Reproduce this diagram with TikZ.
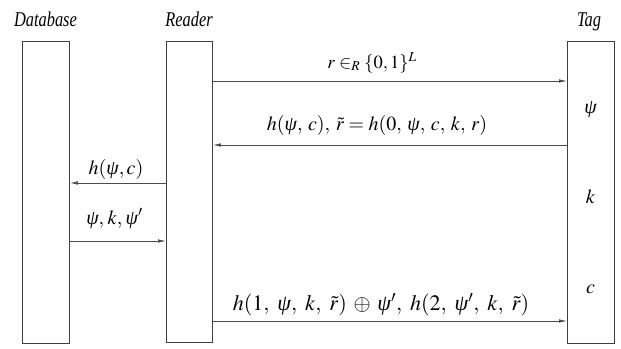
\documentclass[tikz,border=0pt]{standalone}
\usepackage{mathptmx}
\usepackage[no-math]{fontspec}
\setmainfont{Liberation Serif}
\newfontfamily\greekit{Liberation Serif}
\newcommand{\psii}{\mathord{\mbox{\greekit\itshape ψ}}}
\usetikzlibrary{arrows.meta}
\begin{document}
\begin{tikzpicture}[x=1pt,y=-1pt,
  box/.style={draw=black!75,line width=0.9pt,inner sep=0pt,anchor=north west},
  msg/.style={draw=black!70,line width=0.7pt,-{Latex[length=8pt,width=3.5pt]}},
  lbl/.style={anchor=base,inner sep=0pt,font=\fontsize{20}{24}\selectfont},
  ttl/.style={anchor=base,inner sep=0pt,font=\fontsize{21}{25}\selectfont\itshape}]
\useasboundingbox (0,0) rectangle (621,348);
% lifeline boxes
\node[box,minimum width=47pt,minimum height=302pt] (db) at (22,41) {};
\node[box,minimum width=46pt,minimum height=301pt] (rd) at (166,41) {};
\node[box,minimum width=47pt,minimum height=302pt] (tg) at (567,41) {};
% titles
\node[ttl] (tdb) at (45.5,27) {\scalebox{0.78}[1]{\itshape Database}};
\node[ttl] (trd) at (189,27) {\scalebox{0.78}[1]{\itshape Reader}};
\node[ttl] (ttg) at (589,27) {\scalebox{0.78}[1]{\itshape Tag}};
% tag contents
\node[lbl,anchor=center] (psi) at (590.5,110) {$\psii$};
\node[lbl,anchor=center] (kk) at (590.5,197) {$k$};
\node[lbl,anchor=center] (cc) at (590.5,289) {$c$};
% messages
\draw[msg] (rd.east |- 0,81) -- (tg.west |- 0,81);
\node[lbl,font=\fontsize{18.5}{22}\selectfont] (m1) at (372,68) {$r \in_R \{0,1\}^L$};
\draw[msg] (tg.west |- 0,145) -- (rd.east |- 0,145);
\node[lbl] (m2) at (377,130) {$h(\psii,\mkern3mu c),\mkern3mu \tilde{r} = h(0,\mkern3mu\psii,\mkern3mu c,\mkern3mu k,\mkern3mu r)$};
\draw[msg] (rd.west |- 0,183) -- (db.east |- 0,183);
\node[lbl] (m3) at (116,174) {$h(\psii,c)$};
\draw[msg] (db.east |- 0,241) -- (rd.west |- 0,241);
\node[lbl] (m4) at (114.5,224) {$\psii,\mkern1mu k,\mkern1mu\psii'$};
\draw[msg] (rd.east |- 0,321) -- (tg.west |- 0,321);
\node[lbl,font=\fontsize{22}{26}\selectfont] (m5) at (381,310) {$h(1,\mkern4.5mu\psii,\mkern4.5mu k,\mkern4.5mu\tilde{r})\mkern3mu\oplus\mkern3mu\psii',\mkern4.5mu h(2,\mkern4.5mu\psii',\mkern4.5mu k,\mkern4.5mu\tilde{r})$};
\end{tikzpicture}
\end{document}
